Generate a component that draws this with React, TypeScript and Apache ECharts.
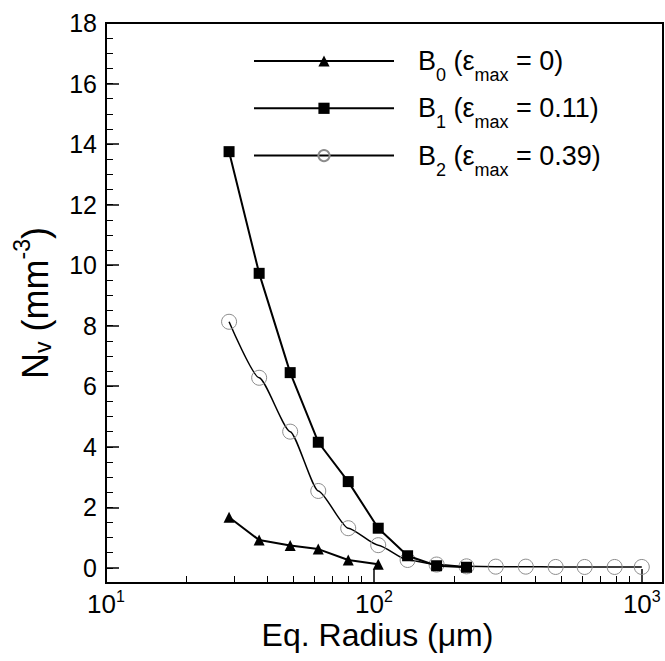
import React, { useEffect, useRef } from 'react';
import * as echarts from 'echarts';

// Equivalent radius bins (µm)
const radius = [28.8, 37.3, 48.7, 62, 80.2, 103.8, 133.6, 171.4, 221.7, 285, 369, 477, 612, 792, 1000];
// Number density Nv (mm^-3)
const b0Values = [1.67, 0.92, 0.74, 0.62, 0.26, 0.12];
const b1Values = [13.75, 9.73, 6.45, 4.15, 2.85, 1.31, 0.4, 0.07, 0.02];
const b2Values = [8.13, 6.28, 4.5, 2.54, 1.31, 0.75, 0.26, 0.11, 0.05, 0.04, 0.04, 0.03, 0.03, 0.03, 0.03];

const seriesNames = ['B0', 'B1', 'B2'];
const seriesSubs = ['0', '1', '2'];
const strainLabels = ['0', '0.11', '0.39'];

const yTickValues = [0, 2, 4, 6, 8, 10, 12, 14, 16, 18];
const xMajorTicks = [10, 100, 1000];
const xMinorTicks = [20, 30, 40, 50, 60, 70, 80, 90, 200, 300, 400, 500, 600, 700, 800, 900];

const FONT = '"Liberation Sans", Arial, Helvetica, sans-serif';

const pairs = (vals: number[]) => vals.map((v, i) => [radius[i], v]);

export default function App() {
  const ref = useRef<HTMLDivElement>(null);
  useEffect(() => {
    if (!ref.current) return;
    const chart = echarts.init(ref.current, undefined, { renderer: 'svg' });
    const option: any = {
      animation: false,
      backgroundColor: '#fff',
      textStyle: { fontFamily: FONT, color: '#000' },
      grid: {
        left: 106, right: 2, top: 23, bottom: 78,
        show: true, borderColor: '#000', borderWidth: 2, backgroundColor: 'transparent',
      },
      legend: {
        orient: 'vertical',
        left: 253,
        top: 38,
        padding: 0,
        itemWidth: 140,
        itemHeight: 14,
        itemGap: 1.3,
        selectedMode: false,
        data: seriesNames,
        formatter: (name: string) => {
          const i = seriesNames.indexOf(name);
          return `{g| }{m|B}{s|${seriesSubs[i]}}{m| (ε}{s|max}{m| = ${strainLabels[i]})}`;
        },
        textStyle: {
          fontFamily: FONT, color: '#000', fontSize: 27,
          rich: {
            g: { width: 19, fontSize: 27, lineHeight: 27 },
            m: { fontSize: 27, lineHeight: 27, fontFamily: FONT, color: '#000' },
            s: { fontSize: 18, lineHeight: 18, padding: [28, 0, 0, 0], fontFamily: FONT, color: '#000' },
          },
        },
      },
      xAxis: [
        {
          type: 'log', logBase: 10, min: 10, max: 1200,
          gridIndex: 0, position: 'bottom',
          axisLine: { show: true, onZero: false, lineStyle: { color: '#000', width: 2 } },
          axisTick: { show: true, inside: true, length: 14, customValues: xMajorTicks, lineStyle: { color: '#000', width: 1.5 } },
          axisLabel: {
            show: true, margin: 5, customValues: xMajorTicks,
            formatter: (v: number) => {
              const e = Math.round(Math.log10(v));
              if (Math.abs(Math.log10(v) - e) > 1e-6) return '';
              return `{b|10}{p|${e}}`;
            },
            rich: {
              b: { fontSize: 26, lineHeight: 26, padding: [5, 0, 0, 0], fontFamily: FONT, color: '#000' },
              p: { fontSize: 16, lineHeight: 16, verticalAlign: 'top', fontFamily: FONT, color: '#000' },
            },
          },
          splitLine: { show: false },
          minorTick: { show: false },
          name: 'Eq. Radius (μm)',
          nameLocation: 'middle',
          nameGap: 39,
          nameMoveOverlap: false,
          nameTextStyle: { fontSize: 32, lineHeight: 26, padding: [0, 14, 0, 0], fontFamily: FONT, color: '#000' },
        },
        {
          type: 'log', logBase: 10, min: 10, max: 1200,
          gridIndex: 0, position: 'bottom',
          axisLine: { show: false, onZero: false },
          axisTick: { show: true, inside: true, length: 7, customValues: xMinorTicks, lineStyle: { color: '#000', width: 1 } },
          axisLabel: { show: false },
          splitLine: { show: false },
        },
      ],
      yAxis: [
        {
          type: 'value', min: -0.5, max: 18,
          gridIndex: 0, position: 'left',
          axisLine: { show: true, onZero: false, lineStyle: { color: '#000', width: 2 } },
          axisTick: { show: true, inside: true, length: 13, customValues: yTickValues, lineStyle: { color: '#000', width: 1.5 } },
          axisLabel: { show: true, margin: 9, customValues: yTickValues, fontSize: 25, fontFamily: FONT, color: '#000' },
          splitLine: { show: false },
          name: 'N{s|v} (mm{p|-3})',
          nameLocation: 'middle',
          nameRotate: 90,
          nameGap: 53,
          nameMoveOverlap: false,
          nameTextStyle: {
            fontSize: 36, lineHeight: 36, fontFamily: FONT, color: '#000',
            rich: {
              s: { fontSize: 23, lineHeight: 23, padding: [16, 0, 0, 0], fontFamily: FONT, color: '#000' },
              p: { fontSize: 23, lineHeight: 23, padding: [0, 0, 26, 0], fontFamily: FONT, color: '#000' },
            },
          },
        },
        {
          type: 'value', min: -0.5, max: 18, interval: 0.5,
          gridIndex: 0, position: 'left',
          axisLine: { show: false, onZero: false },
          axisTick: { show: true, inside: true, length: 7, lineStyle: { color: '#000', width: 1 } },
          axisLabel: { show: false },
          splitLine: { show: false },
        },
      ],
      series: [
        {
          name: 'B2', type: 'line', xAxisIndex: 0, yAxisIndex: 0,
          data: pairs(b2Values),
          smooth: 0.2, smoothMonotone: 'x',
          symbol: 'circle', symbolSize: 15,
          itemStyle: { color: 'transparent', borderColor: '#8c8c8c', borderWidth: 1 },
          lineStyle: { color: '#000', width: 1.5 },
          z: 2,
        },
        {
          name: 'B1', type: 'line', xAxisIndex: 0, yAxisIndex: 0,
          data: pairs(b1Values),
          symbol: 'rect', symbolSize: 11,
          itemStyle: { color: '#000' },
          lineStyle: { color: '#000', width: 2 },
          z: 3,
        },
        {
          name: 'B0', type: 'line', xAxisIndex: 0, yAxisIndex: 0,
          data: pairs(b0Values),
          symbol: 'triangle', symbolSize: 11,
          itemStyle: { color: '#000' },
          lineStyle: { color: '#000', width: 2 },
          z: 4,
        },
      ],
    };
    chart.setOption(option);
    return () => chart.dispose();
  }, []);
  return (
    <div
      ref={ref}
      style={{ position: 'fixed', left: 0, top: 0, width: 665, height: 661, background: '#fff' }}
    />
  );
}
